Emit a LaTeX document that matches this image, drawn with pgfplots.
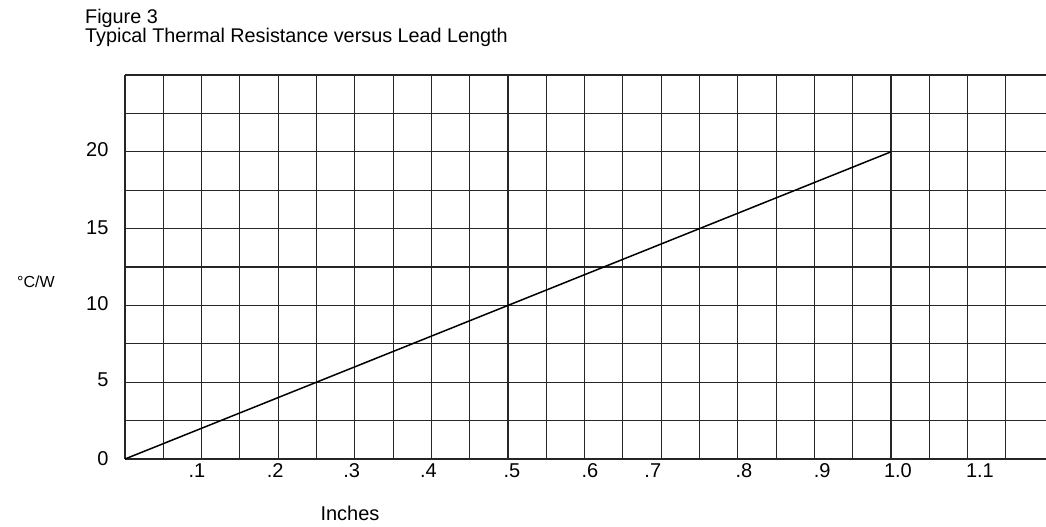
\documentclass[border=0pt]{standalone}
\usepackage{pgfplots}
\pgfplotsset{compat=1.18}
\usepackage{fontspec}
\setmainfont{Liberation Sans}
\begin{document}
\begin{tikzpicture}[x=1pt,y=1pt]
\path[use as bounding box] (-125,-68) rectangle (921,459);
\begin{axis}[
  at={(0,0)}, anchor=south west,
  scale only axis, width=921pt, height=384pt,
  xmin=0, xmax=1.2023, ymin=0, ymax=25,
  axis lines=left,
  axis line style={-, line width=1.1pt, black!85},
  xtick={0.094,0.196,0.296,0.396,0.505,0.607,0.689,0.808,0.910,1.009,1.116},
  xticklabels={.1,.2,.3,.4,.5,.6,.7,.8,.9,1.0,1.1},
  ytick={0,5.13,10.13,15.07,20.13},
  yticklabels={\raisebox{-4pt}{0},5,10,15,20},
  major tick length=0pt, minor tick length=0pt,
  minor xtick={0.05,0.1,0.15,0.2,0.25,0.3,0.35,0.4,0.45,0.5,0.55,0.6,0.65,0.7,0.75,0.8,0.85,0.9,0.95,1.0,1.05,1.1,1.15},
  minor ytick={2.5,5,7.5,10,12.5,15,17.5,20,22.5,25},
  xminorgrids, yminorgrids,
  minor grid style={black!85, line width=1.1pt},
  tick label style={font=\fontsize{20}{24}\selectfont},
  yticklabel style={xshift=-13pt},
  xticklabel style={yshift=-1pt},
  xlabel={Inches},
  ylabel={°C/W},
  every axis x label/.style={at={(rel axis cs:0.2443,0)}, anchor=center, yshift=-54pt, font=\fontsize{20}{24}\selectfont},
  every axis y label/.style={at={(rel axis cs:0,0.4609)}, anchor=west, inner sep=0pt, xshift=-108pt, rotate=0, font=\fontsize{16}{19}\selectfont},
  clip=false,
]
\addplot[black, line width=1.5pt, mark=none] coordinates {(0,0) (0.5,10) (1.0,20)};
\end{axis}
\node[anchor=base west, inner sep=0pt, font=\fontsize{19.8}{24}\selectfont] at (-40,435) {Figure 3};
\node[anchor=base west, inner sep=0pt, font=\fontsize{19.8}{24}\selectfont] at (-40,416) {Typical Thermal Resistance versus Lead Length};
\end{tikzpicture}
\end{document}
